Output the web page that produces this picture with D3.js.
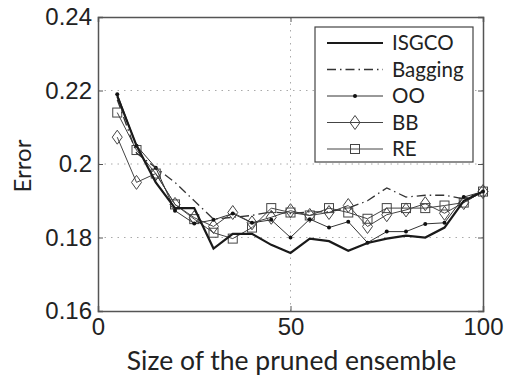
<!DOCTYPE html>
<html>
<head>
<meta charset="utf-8">
<script src="https://cdn.jsdelivr.net/npm/d3@7"></script>
<style>
  body { margin: 0; background: #fff; }
  svg { font-family: Lato, "Open Sans", sans-serif; }
</style>
</head>
<body>
<div id="chart"></div>
<script>
// ensemble sizes
const sizes = [5, 10, 15, 20, 25, 30, 35, 40, 45, 50, 55, 60, 65, 70, 75, 80, 85, 90, 95, 100];

const isgco   = [0.2185, 0.205, 0.195, 0.188, 0.188, 0.177, 0.181, 0.181, 0.178, 0.1758, 0.1797, 0.179, 0.1764, 0.1785, 0.1797, 0.1805, 0.180, 0.1827, 0.190, 0.1925];
const bagging = [0.2175, 0.203, 0.199, 0.195, 0.190, 0.185, 0.1855, 0.186, 0.187, 0.1865, 0.187, 0.187, 0.188, 0.190, 0.1935, 0.191, 0.1915, 0.1915, 0.1905, 0.1925];
const oo      = [0.219, 0.205, 0.199, 0.1873, 0.1838, 0.1848, 0.1865, 0.184, 0.1848, 0.180, 0.185, 0.1827, 0.1843, 0.1786, 0.1816, 0.1816, 0.1837, 0.184, 0.191, 0.1925];
const bb      = [0.2073, 0.195, 0.1974, 0.189, 0.1854, 0.183, 0.1868, 0.184, 0.1855, 0.1873, 0.186, 0.1868, 0.1887, 0.1830, 0.1862, 0.1875, 0.1892, 0.1866, 0.1895, 0.1925];
const re      = [0.214, 0.2038, 0.1974, 0.189, 0.185, 0.1813, 0.1797, 0.1827, 0.188, 0.1868, 0.186, 0.188, 0.1868, 0.1851, 0.188, 0.188, 0.188, 0.1887, 0.1895, 0.1925];

const xTicks = [0, 50, 100];
const yTicks = [0.16, 0.18, 0.2, 0.22, 0.24];
const legendNames = ["ISGCO", "Bagging", "OO", "BB", "RE"];

const W = 505, H = 379;
const margin = {top: 17, right: 22, bottom: 68, left: 98};
const width = W - margin.left - margin.right;
const height = H - margin.top - margin.bottom;

const svg = d3.select("#chart").append("svg")
    .attr("width", W)
    .attr("height", H);

const g = svg.append("g")
    .attr("transform", "translate(" + margin.left + "," + margin.top + ")");

const x = d3.scaleLinear().domain([0, 100]).range([0, width]);
const y = d3.scaleLinear().domain([0.16, 0.24]).range([height, 0]);

const frameColor = "#555";

// dotted grid lines
g.selectAll(".gy").data(yTicks.slice(1, -1)).enter().append("line")
    .attr("x1", 0).attr("x2", width)
    .attr("y1", d => y(d)).attr("y2", d => y(d))
    .attr("stroke", "#aaa").attr("stroke-dasharray", "1.5,5");
g.selectAll(".gx").data(xTicks.slice(1, -1)).enter().append("line")
    .attr("y1", 0).attr("y2", height)
    .attr("x1", d => x(d)).attr("x2", d => x(d))
    .attr("stroke", "#aaa").attr("stroke-dasharray", "1.5,5");

// axes (ticks inward, labels outside)
const xAxis = g.append("g").attr("transform", "translate(0," + height + ")")
    .call(d3.axisBottom(x).tickValues(xTicks).tickSize(-5).tickPadding(5).tickFormat(d3.format("d")));
const yAxis = g.append("g")
    .call(d3.axisLeft(y).tickValues(yTicks).tickSize(-5).tickPadding(6).tickFormat(d => d === 0.2 ? "0.2" : d3.format(".2f")(d)));
g.append("g")
    .call(d3.axisTop(x).tickValues(xTicks).tickSize(-5).tickFormat(""));
g.append("g").attr("transform", "translate(" + width + ",0)")
    .call(d3.axisRight(y).tickValues(yTicks).tickSize(-5).tickFormat(""));

g.selectAll(".domain").attr("stroke", frameColor).attr("stroke-width", 1.5);
g.selectAll(".tick line").attr("stroke", frameColor);
g.selectAll(".tick text").attr("fill", "#222").style("font-size", "24px");
xAxis.selectAll(".tick text").attr("dy", "0.8em");

// axis titles
svg.append("text")
    .attr("x", margin.left + width / 2 + 1).attr("y", 370)
    .attr("text-anchor", "middle")
    .style("font-size", "26.5px").attr("fill", "#222")
    .text("Size of the pruned ensemble");
svg.append("text")
    .attr("transform", "translate(31,166) rotate(-90)")
    .attr("text-anchor", "middle")
    .style("font-size", "24px").attr("fill", "#222")
    .text("Error");

// series
const series = [
    {name: "ISGCO", values: isgco, width: 2.2, color: "#1a1a1a", dash: null, marker: null},
    {name: "Bagging", values: bagging, width: 1.3, color: "#333", dash: "9,4,1.5,4", marker: null},
    {name: "OO", values: oo, width: 1, color: "#333", dash: null, marker: "dot"},
    {name: "BB", values: bb, width: 1, color: "#444", dash: null, marker: "diamond"},
    {name: "RE", values: re, width: 1, color: "#444", dash: null, marker: "square"}
];

const line = d3.line().x((d, i) => x(sizes[i])).y(d => y(d));

function drawMarker(sel, type, color) {
    if (type === "dot") {
        sel.append("circle").attr("r", 2).attr("fill", "#111");
    } else if (type === "diamond") {
        sel.append("path").attr("d", "M0,-7L5,0L0,7L-5,0Z")
            .attr("fill", "none").attr("stroke", color).attr("stroke-width", 1);
    } else if (type === "square") {
        sel.append("rect").attr("x", -4.5).attr("y", -4.5).attr("width", 9).attr("height", 9)
            .attr("fill", "none").attr("stroke", color).attr("stroke-width", 1);
    }
}

series.slice().reverse().forEach(s => {
    g.append("path")
        .datum(s.values)
        .attr("d", line)
        .attr("fill", "none")
        .attr("stroke", s.color)
        .attr("stroke-width", s.width)
        .attr("stroke-dasharray", s.dash);
    if (s.marker) {
        const m = g.selectAll(null).data(s.values).enter().append("g")
            .attr("transform", (d, i) => "translate(" + x(sizes[i]) + "," + y(d) + ")");
        drawMarker(m, s.marker, s.color);
    }
});

// legend
const lg = svg.append("g").attr("transform", "translate(315,27)");
lg.append("rect").attr("width", 158).attr("height", 135)
    .attr("fill", "#fff").attr("stroke", "#444").attr("stroke-width", 1.2);
series.forEach((s, i) => {
    const row = lg.append("g").attr("transform", "translate(0," + (16 + i * 26.5) + ")");
    row.append("line").attr("x1", 12).attr("x2", 68)
        .attr("stroke", s.color).attr("stroke-width", s.width)
        .attr("stroke-dasharray", s.dash);
    if (s.marker) {
        const m = row.append("g").attr("transform", "translate(40,0)");
        drawMarker(m, s.marker, s.color);
    }
    row.append("text").attr("x", 77).attr("y", 0).attr("dy", "0.35em")
        .style("font-size", "20.5px").attr("fill", "#222")
        .text(legendNames[i]);
});
</script>
</body>
</html>
